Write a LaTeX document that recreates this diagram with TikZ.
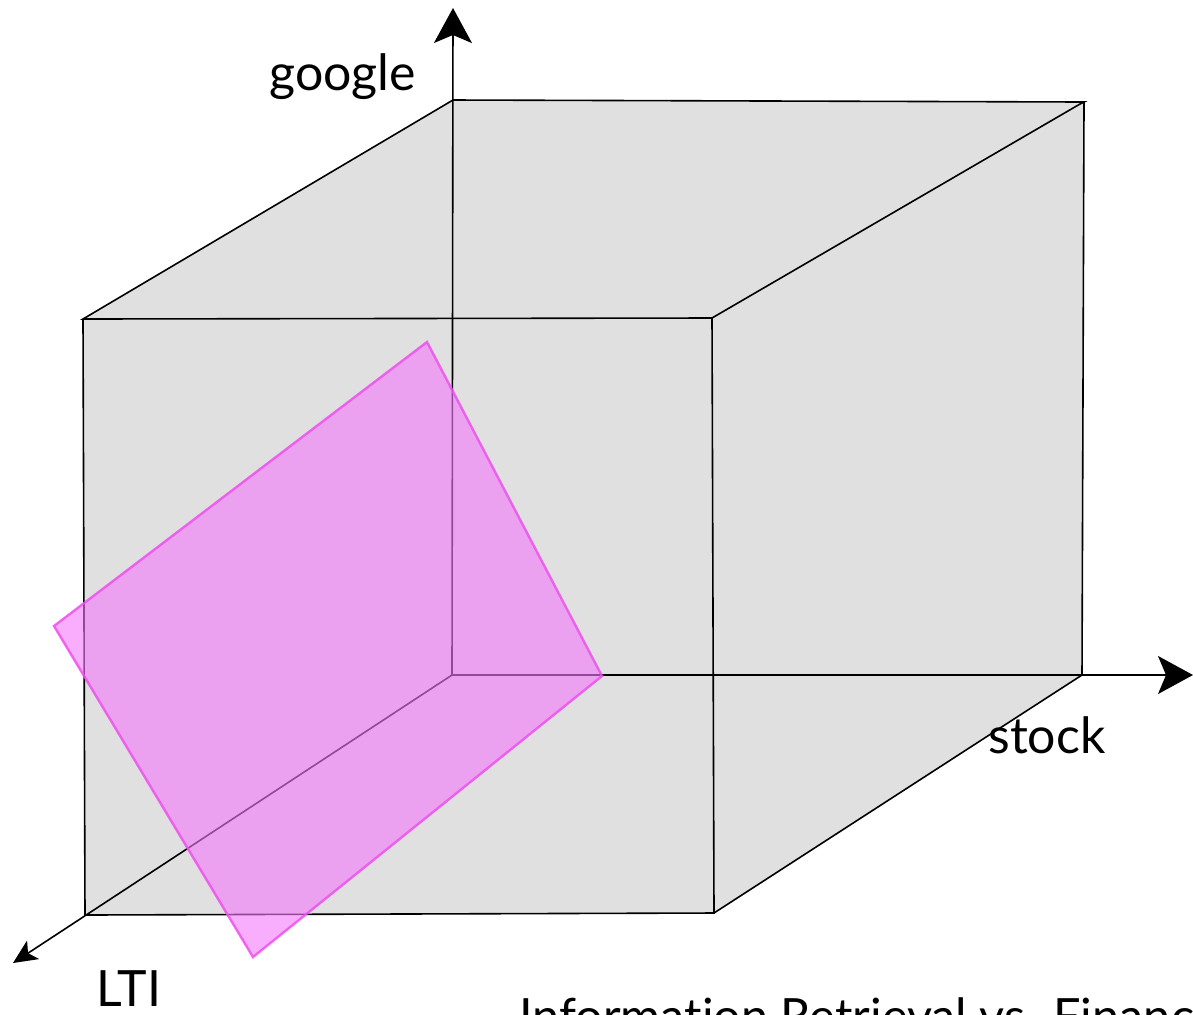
\documentclass[tikz,border=0pt]{standalone}
\usepackage{fontspec}
\setmainfont{Lato}[Ligatures={NoCommon}]
\usetikzlibrary{arrows.meta}
\definecolor{cubegray}{RGB}{224,224,224}
\definecolor{planefill}{RGB}{243,120,250}
\definecolor{planeedge}{RGB}{238,80,238}
\tikzset{
  edge/.style={line width=0.8pt, black, line join=miter},
  axis/.style={line width=0.8pt, black},
  bigtip/.style={-{Stealth[length=17.5pt,width=19pt,inset=4pt]}},
  smalltip/.style={-{Stealth[length=12pt,width=11pt,inset=3pt]}},
  lbl/.style={inner sep=0pt, anchor=base west, font=\fontsize{25}{30}\selectfont},
  plane/.style={fill=planefill, fill opacity=0.6, draw=planeedge, draw opacity=0.85, line width=1.2pt, line join=miter}
}
\begin{document}
\begin{tikzpicture}[x=0.5pt,y=-0.5pt]
\useasboundingbox (0,0) rectangle (1193,1014);
\clip (0,0) rectangle (1193,1014);
% cube vertices
\coordinate (O) at (452,675);
\coordinate (BTL) at (453,100);
\coordinate (BTR) at (1084,102);
\coordinate (BBR) at (1082,675);
\coordinate (FTL) at (83,319);
\coordinate (FTR) at (712,318);
\coordinate (FBL) at (85,915);
\coordinate (FBR) at (714,913);
\coordinate (Gtip) at (453,8);
\coordinate (Stip) at (1193,675);
\coordinate (Ltip) at (13,963);
% silhouette fill
\fill[cubegray] (FTL) -- (BTL) -- (BTR) -- (BBR) -- (FBR) -- (FBL) -- cycle;
% axes through the cube
\draw[axis,bigtip] (O) -- (Gtip);
\draw[axis,bigtip] (O) -- (Stip);
\draw[axis,smalltip] (O) -- (Ltip);
% visible edges
\draw[edge] (FTL) -- (BTL) -- (BTR) -- (1080,104) -- (FTR) -- (FTL) -- cycle;
\draw[edge] (FTL) -- (FBL) -- (FBR) -- (FTR);
\draw[edge] (BTR) -- (BBR) -- (FBR);
% plane
\coordinate (PT) at (427,342);
\coordinate (PR) at (602,676);
\coordinate (PB) at (253,957);
\coordinate (PL) at (54,626);
\filldraw[plane] (PT) -- (PR) -- (PB) -- (PL) -- cycle;
% labels
\node[lbl] (google) at (269,90) {google};
\node[lbl] (stock) at (988,753) {stock};
\node[lbl] (lti) at (96,1006) {LTI};
\node[lbl, font=\fontsize{24.3}{30}\selectfont] (title) at (519,1033) {Information Retrieval vs. Finance};
\end{tikzpicture}
\end{document}
